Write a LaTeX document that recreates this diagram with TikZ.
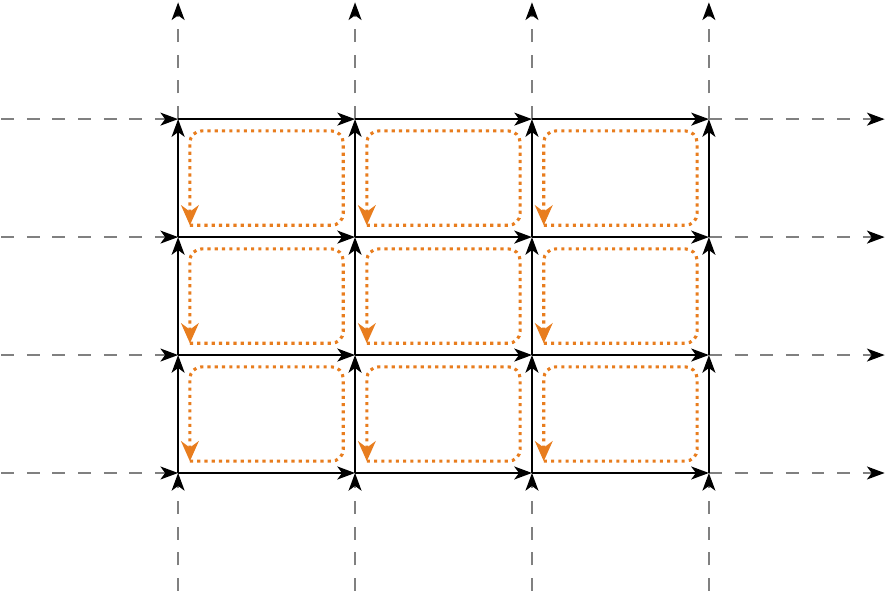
\documentclass[tikz,border=0pt]{standalone}
\usetikzlibrary{arrows.meta}
\definecolor{loopcol}{RGB}{232,125,30}
\begin{document}
\begin{tikzpicture}[
  edge/.style={line width=1pt, -{Stealth[length=3mm, width=2.2mm, inset=0.8mm]}},
  ext/.style={draw=gray, line width=0.8pt, dash pattern=on 0.22cm off 0.215cm, -{Stealth[length=3mm, width=2.2mm, inset=0.8mm, color=black]}},
  cellloop/.style={draw=loopcol, line width=1.5pt, dotted, rounded corners=0.2cm, -{Stealth[length=3.4mm, width=3mm, inset=1.1mm]}}
]
\useasboundingbox (-0.02,-0.02) rectangle (15.02,10.02);
% grid points and outer ends
\foreach \i in {1,...,4} {
  \foreach \j in {1,...,4}
    \coordinate (v\i\j) at (3*\i, 2*\j);
  \coordinate (b\i) at (3*\i, 0);
  \coordinate (t\i) at (3*\i, 9.98);
  \coordinate (l\i) at (0, 2*\i);
  \coordinate (r\i) at (14.98, 2*\i);
}
% dashed extensions
\foreach \n in {1,...,4} {
  \draw[ext] (l\n) -- (v1\n);
  \draw[ext] (v4\n) -- (r\n);
  \draw[ext] (b\n) -- (v\n1);
  \draw[ext] (v\n4) -- (t\n);
}
% solid edges
\foreach \i/\k in {1/2,2/3,3/4}
  \foreach \j in {1,...,4} {
    \draw[edge] (v\i\j) -- (v\k\j);
    \draw[edge] (v\j\i) -- (v\j\k);
  }
% cell loops
\foreach \i/\k in {1/2,2/3,3/4}
  \foreach \j/\l in {1/2,2/3,3/4}
    \draw[cellloop] ([shift={(0.2,0.2)}]v\i\j) -- ([shift={(-0.2,0.2)}]v\k\j)
      -- ([shift={(-0.2,-0.2)}]v\k\l) -- ([shift={(0.2,-0.2)}]v\i\l)
      -- ([shift={(0.2,0.2)}]v\i\j);
\end{tikzpicture}
\end{document}
